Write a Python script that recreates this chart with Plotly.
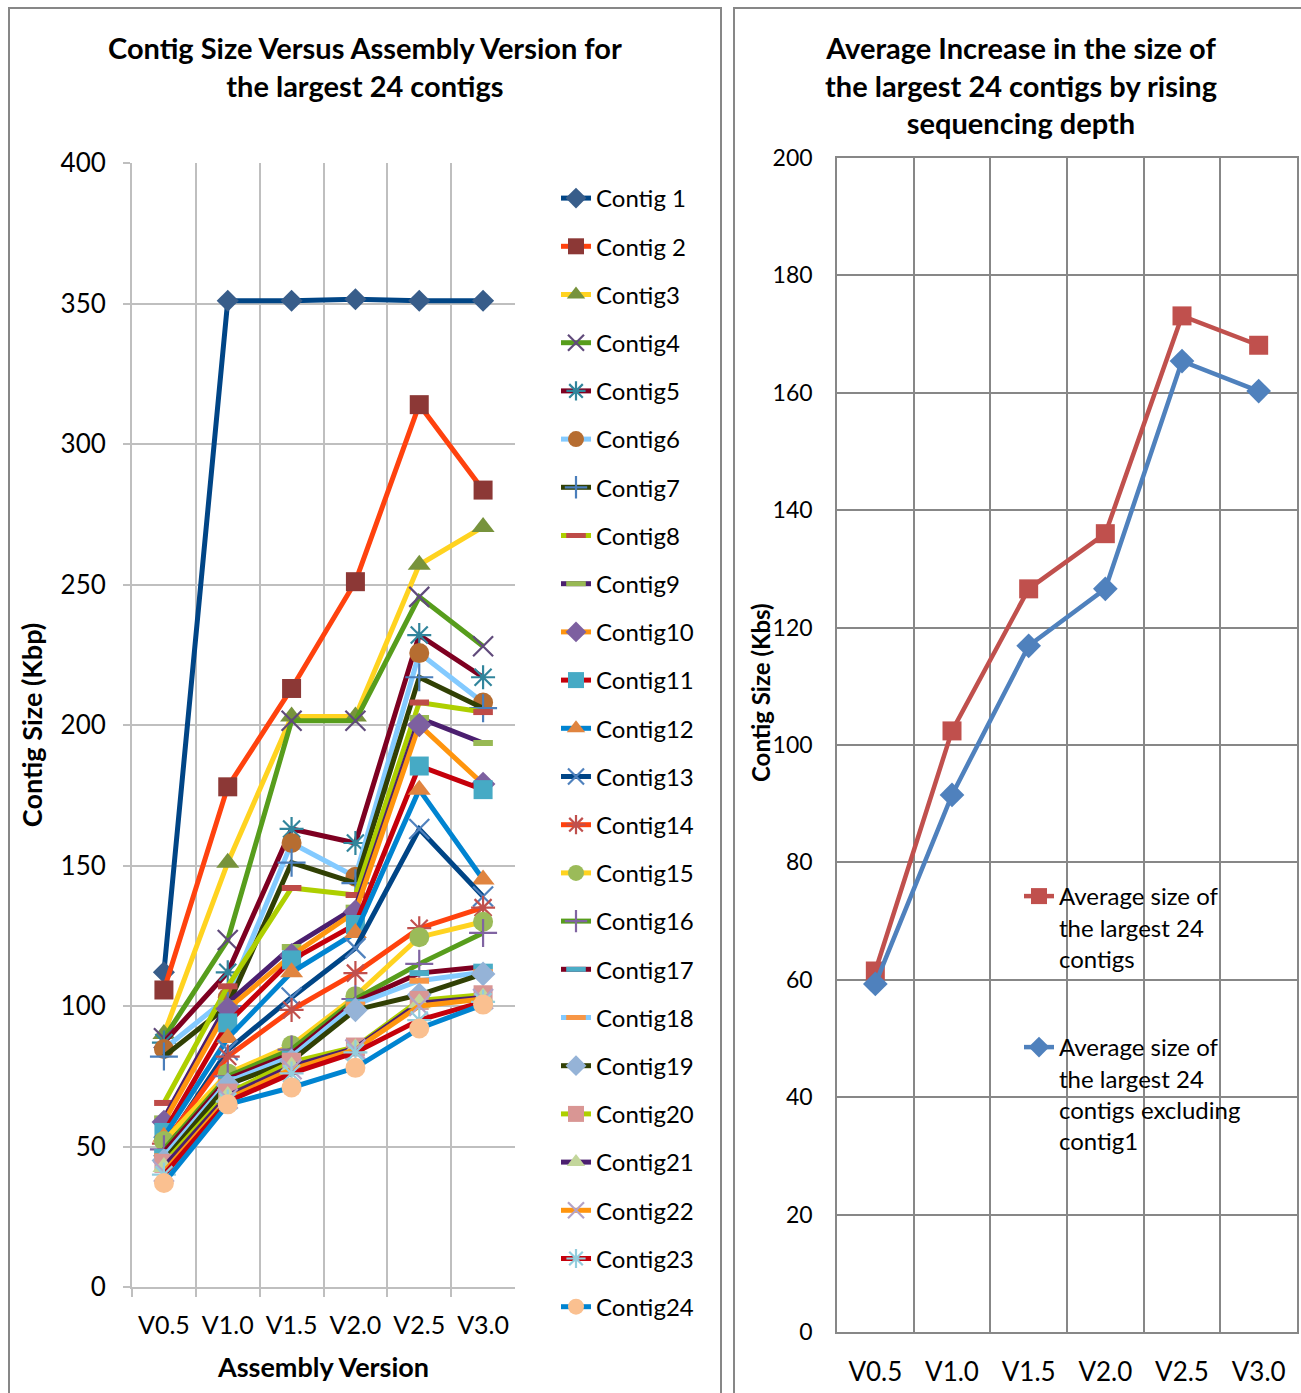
import plotly.graph_objects as go

versions = ["V0.5", "V1.0", "V1.5", "V2.0", "V2.5", "V3.0"]

contig_names = ["Contig 1", "Contig 2", "Contig3", "Contig4", "Contig5", "Contig6",
                "Contig7", "Contig8", "Contig9", "Contig10", "Contig11", "Contig12",
                "Contig13", "Contig14", "Contig15", "Contig16", "Contig17", "Contig18",
                "Contig19", "Contig20", "Contig21", "Contig22", "Contig23", "Contig24"]

contig1 = [112, 351, 351, 351.5, 351, 351]
contig2 = [105.7, 178, 213, 251, 314, 283.6]
contig3 = [90, 151, 203, 203, 257, 270.5]
contig4 = [88.5, 123.5, 201.5, 201.5, 245.6, 228]
contig5 = [87, 112, 163, 158, 232, 217]
contig6 = [84.7, 103, 158, 146, 225.6, 208]
contig7 = [82, 100, 151, 143.7, 217, 206]
contig8 = [65.5, 107, 142, 139.5, 208, 204.6]
contig9 = [60, 101, 121, 135, 202.5, 193.6]
contig10 = [58.7, 99, 118, 133.5, 200, 179]
contig11 = [55, 94, 116.4, 129, 185.4, 177]
contig12 = [53.5, 88.6, 112, 126, 177, 145]
contig13 = [50, 84.3, 103, 120.6, 163, 139]
contig14 = [51, 82, 98.6, 111.7, 127.7, 135]
contig15 = [52, 76, 86, 103.5, 124.5, 130]
contig16 = [49, 75, 84.5, 102.5, 115, 126]
contig17 = [48, 74, 83, 101.5, 111.7, 114]
contig18 = [46.5, 73, 82, 100.5, 109, 112]
contig19 = [45, 72, 80.5, 98.6, 104, 111.4]
contig20 = [44, 69, 80, 85.4, 102, 104]
contig21 = [42.7, 68, 78.5, 85, 101, 103]
contig22 = [41, 67, 77.5, 84.5, 100, 102.5]
contig23 = [40, 66, 76, 83.5, 95, 101.5]
contig24 = [37, 65, 71, 78, 92, 100.5]

avg_all = [61.5, 102.4, 126.6, 136, 173.1, 168.1]
avg_excl1 = [59.3, 91.5, 116.9, 126.6, 165.4, 160.3]

contigs = [contig1, contig2, contig3, contig4, contig5, contig6, contig7, contig8,
           contig9, contig10, contig11, contig12, contig13, contig14, contig15, contig16,
           contig17, contig18, contig19, contig20, contig21, contig22, contig23, contig24]

# ---- styles ----
line_palette = ["#004586", "#FF420E", "#FFD320", "#579D1C", "#7E0021", "#83CAFF",
                "#314004", "#AECF00", "#4B1F6F", "#FF950E", "#C5000B", "#0084D1"]
marker_styles = [
    ("diamond", "#385D8A", 17), ("square", "#8C3836", 19), ("triangle-up", "#77933C", 20),
    ("x-thin-open", "#604A7B", 20), ("asterisk-open", "#31859C", 20), ("circle", "#B66D31", 20),
    ("cross-thin-open", "#4A7EBB", 20), ("line-ew-open", "#BE4B48", 14), ("line-ew-open", "#98B954", 14),
    ("diamond", "#7D60A0", 19), ("square", "#46AAC5", 19), ("triangle-up", "#E0843F", 20),
    ("x-thin-open", "#4F81BD", 20), ("asterisk-open", "#C0504D", 20), ("circle", "#9BBB59", 20),
    ("cross-thin-open", "#8064A2", 20), ("line-ew-open", "#4BACC6", 14), ("line-ew-open", "#F79646", 14),
    ("diamond", "#95B3D7", 19), ("square", "#D99694", 19), ("triangle-up", "#C3D69B", 20),
    ("x-thin-open", "#B3A2C7", 20), ("asterisk-open", "#93CDDD", 20), ("circle", "#FAC090", 20),
]

W, H = 1301, 1393
FONT = "Lato, 'Open Sans', sans-serif"

fig = go.Figure()

for i, (name, vals) in enumerate(zip(contig_names, contigs)):
    sym, mcol, msize = marker_styles[i]
    if sym == "line-ew-open":
        mline = dict(color=mcol, width=6)
    elif sym.endswith("-open"):
        mline = dict(color=mcol, width=2.2)
    else:
        mline = dict(color=mcol, width=0)
    fig.add_trace(go.Scatter(
        x=versions, y=vals, name=name, mode="lines+markers",
        line=dict(color=line_palette[i % 12], width=5),
        marker=dict(symbol=sym, color=mcol, size=msize, line=mline),
        xaxis="x", yaxis="y", legend="legend", legendgroup=f"g{i}",
    ))

fig.add_trace(go.Scatter(
    x=versions, y=avg_all,
    name="Average size of<br>the largest 24<br>contigs",
    mode="lines+markers", line=dict(color="#C0504D", width=4.5),
    marker=dict(symbol="square", color="#C0504D", size=19),
    xaxis="x2", yaxis="y2", legend="legend2",
))
fig.add_trace(go.Scatter(
    x=versions, y=avg_excl1,
    name="Average size of<br>the largest 24<br>contigs excluding<br>contig1",
    mode="lines+markers", line=dict(color="#4F81BD", width=4.5),
    marker=dict(symbol="diamond", color="#4F81BD", size=19),
    xaxis="x2", yaxis="y2", legend="legend3",
))


def px_x(p):
    return p / W


def px_y(p):
    return 1 - p / H


grid_l = "#BFBFBF"
grid_r = "#878787"

fig.update_layout(
    width=W, height=H,
    margin=dict(l=0, r=0, t=0, b=0, autoexpand=False),
    paper_bgcolor="white", plot_bgcolor="white",
    font=dict(family=FONT, color="black"),
    showlegend=True,
    xaxis=dict(
        domain=[px_x(132), px_x(515)], type="category", range=[-0.5, 5.5],
        tickson="boundaries", showgrid=True, gridcolor=grid_l, gridwidth=2,
        showline=True, linecolor=grid_l, linewidth=2,
        ticks="outside", ticklen=8, tickcolor=grid_l, tickwidth=2, tickangle=0,
        tickfont=dict(size=25, family=FONT), anchor="y", ticklabelstandoff=15,
        title=dict(text="<b>Assembly Version</b>", font=dict(size=27, family=FONT), standoff=20),
    ),
    yaxis=dict(
        domain=[px_y(1287), px_y(163)], range=[0, 400], dtick=50,
        showgrid=True, gridcolor=grid_l, gridwidth=2,
        showline=True, linecolor=grid_l, linewidth=2,
        ticks="outside", ticklen=7, tickcolor=grid_l, tickwidth=2,
        tickfont=dict(size=26, family=FONT), anchor="x", zeroline=False, ticklabelstandoff=12,
        title=dict(text="<b>Contig Size (Kbp)</b>", font=dict(size=27, family=FONT), standoff=10),
    ),
    xaxis2=dict(
        domain=[px_x(837), px_x(1297)], type="category", range=[-0.5, 5.5],
        tickson="boundaries", showgrid=True, gridcolor=grid_r, gridwidth=1.5,
        showline=True, linecolor=grid_r, linewidth=1.5, tickangle=0,
        ticks="", tickfont=dict(size=26, family=FONT), anchor="y2", ticklabelstandoff=16,
        mirror=True,
    ),
    yaxis2=dict(
        domain=[px_y(1332), px_y(158)], range=[0, 200], dtick=20,
        showgrid=True, gridcolor=grid_r, gridwidth=1.5,
        showline=True, linecolor=grid_r, linewidth=1.5, mirror=True,
        ticks="", tickfont=dict(size=23, family=FONT), anchor="x2", zeroline=False,
        ticklabelstandoff=18,
    ),
    legend=dict(
        x=px_x(556), y=px_y(176), xanchor="left", yanchor="top",
        font=dict(size=24, family=FONT), tracegroupgap=14.0,
        bgcolor="rgba(0,0,0,0)",
    ),
    legend2=dict(
        x=px_x(1019), y=px_y(874), xanchor="left", yanchor="top",
        font=dict(size=24, family=FONT), valign="top", bgcolor="rgba(0,0,0,0)",
    ),
    legend3=dict(
        x=px_x(1019), y=px_y(1025), xanchor="left", yanchor="top",
        font=dict(size=24, family=FONT), valign="top", bgcolor="rgba(0,0,0,0)",
    ),
    annotations=[
        dict(text="<b>Contig Size Versus Assembly Version for<br>the largest 24 contigs</b>",
             x=px_x(365), y=px_y(28), xref="paper", yref="paper", xanchor="center", yanchor="top",
             showarrow=False, font=dict(size=29, family=FONT), align="center"),
        dict(text="<b>Average Increase in the size of<br>the largest 24 contigs by rising<br>sequencing depth</b>",
             x=px_x(1021), y=px_y(28), xref="paper", yref="paper", xanchor="center", yanchor="top",
             showarrow=False, font=dict(size=29, family=FONT), align="center"),
        dict(text="<b>Contig Size (Kbs)</b>", textangle=-90,
             x=px_x(760), y=px_y(693), xref="paper", yref="paper", xanchor="center", yanchor="middle",
             showarrow=False, font=dict(size=24, family=FONT)),
    ],
    shapes=[
        dict(type="rect", xref="paper", yref="paper", x0=px_x(9), x1=px_x(721), y0=-0.05, y1=px_y(8),
             line=dict(color="#878787", width=2), fillcolor="rgba(0,0,0,0)", layer="below"),
        dict(type="rect", xref="paper", yref="paper", x0=px_x(734), x1=1.05, y0=-0.05, y1=px_y(8),
             line=dict(color="#878787", width=2), fillcolor="rgba(0,0,0,0)", layer="below"),
    ],
)

fig.write_html("out.html")
